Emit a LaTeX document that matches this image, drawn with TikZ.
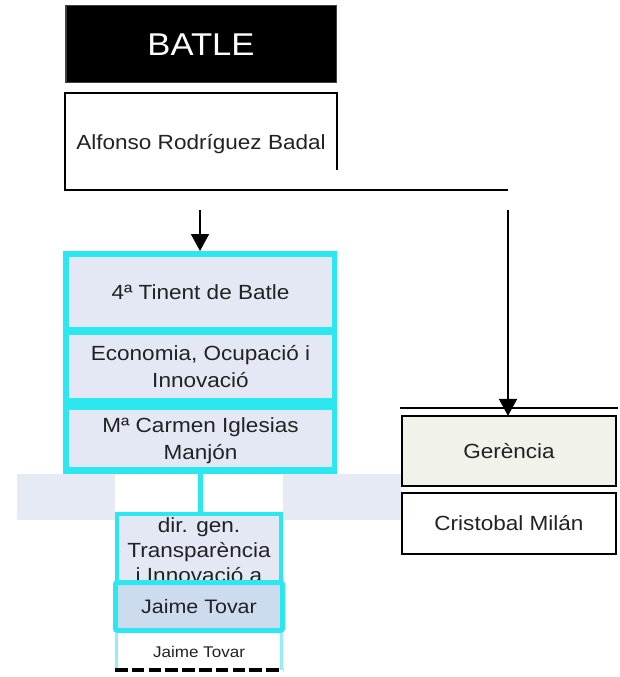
\documentclass[tikz,border=0pt]{standalone}
\usepackage{fontspec}
\setmainfont[FakeStretch=1.1]{Liberation Sans}
\usetikzlibrary{arrows.meta}
\definecolor{cyanb}{RGB}{44,230,240}
\definecolor{lav}{RGB}{228,232,244}
\definecolor{bandc}{RGB}{230,234,245}
\definecolor{jbox}{RGB}{204,220,238}
\definecolor{gerfill}{RGB}{241,243,235}
\definecolor{txt}{RGB}{34,34,34}
\definecolor{lcyan}{RGB}{150,238,245}
\begin{document}
\begin{tikzpicture}[x=1pt,y=-1pt,
  box/.style={rectangle, inner sep=0pt, outer sep=0pt},
  body/.style={text=txt, font=\fontsize{20.5}{27}\selectfont, align=center},
  oneline/.style={text height=14.7pt, text depth=0pt},
  twoline/.style={text height=41.7pt, text depth=0pt},
  lavbox/.style={box, fill=lav, body, minimum width=263pt},
  blackbox/.style={box, draw=black, line width=1.8pt, body, oneline, minimum width=214.2pt},
  conn/.style={line width=1.8pt, -{Triangle[width=18pt,length=17pt]}}
]
\useasboundingbox (0,0) rectangle (619,677);
% light band
\fill[bandc] (17,474) rectangle (115,520);
\fill[bandc] (283,474) rectangle (401,520);

% BATLE
\node[box, fill=black, draw=black!75, line width=1.5pt, minimum width=270.5pt, minimum height=76.5pt,
      text=white, font=\fontsize{31.5}{36}\selectfont, text height=22.5pt, text depth=0pt] (batle) at (201,44) {BATLE};

% Alfonso
\node[body, anchor=base, inner sep=0pt] (alfonso) at (201,149) {Alfonso Rodríguez Badal};
\coordinate (alfTR) at (337,170);
\coordinate (alfBR) at (508,190);
\draw[line width=1.8pt] (alfTR) -- (337,93) -- (65,93) -- (65,190) -- (alfBR);

% cyan group
\node[box, fill=cyanb, minimum width=274pt, minimum height=223pt] (grp) at (200,362.5) {};
\node[lavbox, oneline, minimum height=70pt] (tinent) at (200.5,292) {4ª Tinent de Batle};
\node[lavbox, twoline, minimum height=63pt] (econ) at (200.5,366.5) {Economia, Ocupació i\\Innovació};
\node[lavbox, twoline, minimum height=57pt] (carmen) at (200.5,438.5) {Mª Carmen Iglesias\\Manjón};

% arrow to group
\coordinate (a1s) at (200,210);
\draw[conn] (a1s) -- (grp.north);

% dir. gen.
\node[box, fill=lav, draw=cyanb, line width=4pt, minimum width=164pt, minimum height=73.2pt,
      text=txt, font=\fontsize{20.5}{25}\selectfont, align=center, text height=64.7pt, text depth=0pt]
      (dirgen) at (199,550.6) {dir. gen.\\Transparència\\i Innovació a};
\draw[cyanb, line width=5pt] (grp.south) -- (grp.south |- dirgen.north);

% Jaime Tovar boxes
\node[box, fill=jbox, draw=cyanb, line width=5pt, rounded corners=2pt, minimum width=167pt, minimum height=48pt,
      text=txt, font=\fontsize{19.5}{24}\selectfont, text height=14pt, text depth=0pt] (jaime) at (199,606.5) {Jaime Tovar};
\node[box, fill=white, minimum width=168pt, minimum height=37pt, text=txt,
      font=\fontsize{15.5}{19}\selectfont, text height=11.1pt, text depth=0pt] (jsub) at (199,651.5) {Jaime Tovar};
\draw[lcyan, line width=2.5pt] ([xshift=1.5pt]jsub.north west) -- ([xshift=1.5pt]jsub.south west);
\draw[lcyan, line width=2.5pt] ([xshift=-1.5pt]jsub.north east) -- ([xshift=-1.5pt]jsub.south east);
\draw[black, line width=4pt, dash pattern=on 12.5pt off 4.3pt] (jsub.south west) -- (jsub.south east);

% right branch
\coordinate (a2s) at (508,210);
\coordinate (rl) at (400,408);
\coordinate (rr) at (618,408);
\draw[line width=1.8pt] (rl) -- (rr);
\node[blackbox, fill=gerfill, minimum height=70.2pt] (ger) at (509,451) {Gerència};
\node[blackbox, fill=white, minimum height=61.2pt] (cris) at (509,523.5) {Cristobal Milán};
\draw[conn] (a2s) -- (a2s |- ger.north);
\end{tikzpicture}
\end{document}
